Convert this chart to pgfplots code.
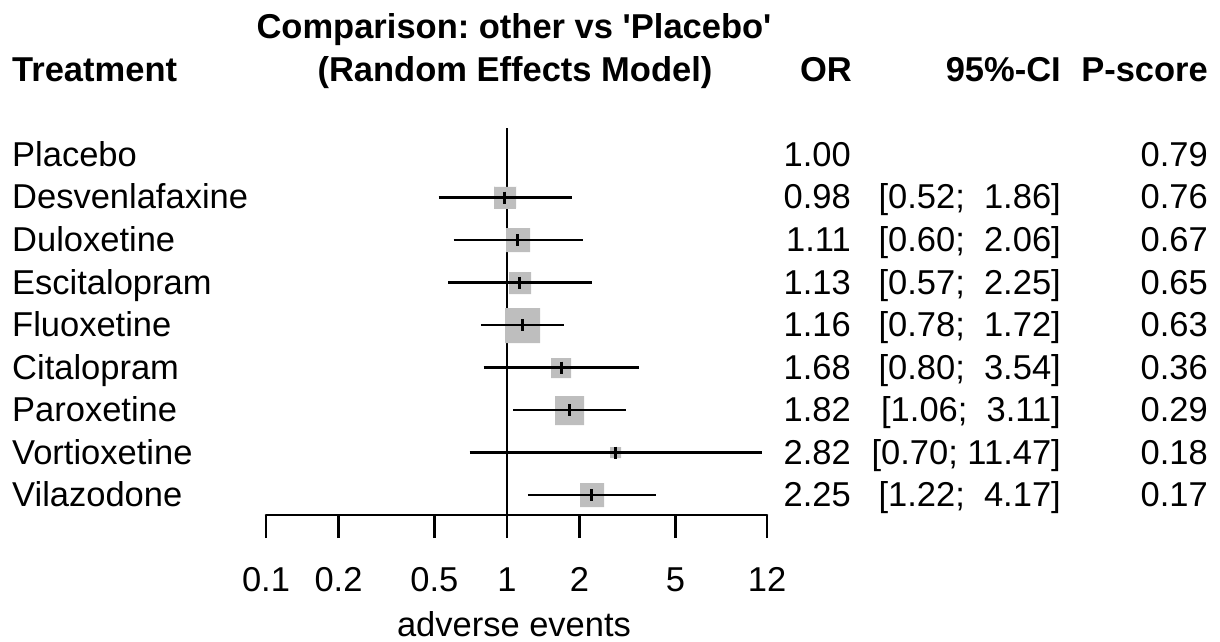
\documentclass[border=0pt]{standalone}
\usepackage{pgfplots}
\pgfplotsset{compat=1.18}
\usepackage{pgfplotstable}
\usepackage{fontspec}
\setmainfont{Liberation Sans}
\definecolor{boxgray}{RGB}{190,190,190}

\pgfplotstableread{
row or lo hi
2 0.98 0.52 1.86
3 1.11 0.60 2.06
4 1.13 0.57 2.25
5 1.16 0.78 1.72
6 1.68 0.80 3.54
7 1.82 1.06 3.11
8 2.82 0.70 11.47
9 2.25 1.22 4.17
}\data

\pgfplotstableread{
x y
0.52 -2
1.86 -2
nan nan
0.60 -3
2.06 -3
nan nan
0.57 -4
2.25 -4
nan nan
0.78 -5
1.72 -5
nan nan
0.80 -6
3.54 -6
nan nan
1.06 -7
3.11 -7
nan nan
0.70 -8
11.47 -8
nan nan
1.22 -9
4.17 -9
}\cidata

\newcommand\fs{\fontsize{34.5}{40}\selectfont}

\begin{document}
\frenchspacing
\begin{tikzpicture}[x=1pt,y=1pt]
\path[use as bounding box] (0,0) rectangle (1220,641);
\begin{axis}[
  at={(266pt,126pt)}, anchor=south west,
  scale only axis, width=501pt, height=387pt,
  xmode=log, xmin=0.1, xmax=12,
  ymin=-9.47, ymax=-0.365,
  axis x line*=bottom, axis y line=none,
  x axis line style={-, line width=2.6pt, line cap=round},
  xtick={0.1,0.2,0.5,1,2,5,12},
  xticklabels={0.1,0.2,0.5,1,2,5,12},
  minor xtick={},
  tick align=outside,
  major tick length=23pt,
  tick style={line width=2.6pt, black},
  xticklabel style={font=\fs, anchor=base, yshift=-53pt},
  clip=false,
  clip marker paths=true,
  unbounded coords=jump,
  box/.style={boxgray, only marks, mark=square*, mark options={line width=0.01pt, draw=boxgray, fill=boxgray}},
]
\addplot[black, line width=2.6pt] coordinates {(1,-0.365) (1,-9.47)};
% boxes (side length in px = 2 x mark size)
\addplot[box, mark size=11pt]   coordinates {(0.98,-2)};
\addplot[box, mark size=12pt]   coordinates {(1.11,-3)};
\addplot[box, mark size=11pt]   coordinates {(1.13,-4)};
\addplot[box, mark size=17.5pt] coordinates {(1.16,-5)};
\addplot[box, mark size=10pt]   coordinates {(1.68,-6)};
\addplot[box, mark size=14.5pt] coordinates {(1.82,-7)};
\addplot[box, mark size=5.5pt]  coordinates {(2.82,-8)};
\addplot[box, mark size=12pt]   coordinates {(2.25,-9)};
% confidence intervals
\addplot[black, line width=2.6pt, mark=none] table[x=x, y=y] {\cidata};
% point estimates
\addplot[black, only marks, mark=|, mark size=6pt, mark options={line width=3pt, black}]
  table[x=or, y expr=-\thisrow{row}] {\data};
\end{axis}

% column headers
\begin{scope}[every node/.style={inner sep=0pt, font=\fs\bfseries}]
\node[anchor=base] at (514,602) {Comparison: other vs \textquotesingle Placebo\textquotesingle};
\node[anchor=base] at (515,559) {(Random Effects Model)};
\node[anchor=base west] at (12,559) {Treatment};
\node[anchor=base east] at (852,559) {OR};
\node[anchor=base east] at (1061,559) {95\%-CI};
\node[anchor=base east] at (1208,559) {P-score};
\end{scope}

% rows
\foreach \n/\o/\c/\p [count=\i from 0] in {
  Placebo/1.00//0.79,
  Desvenlafaxine/0.98/{[0.52;\ \ 1.86]}/0.76,
  Duloxetine/1.11/{[0.60;\ \ 2.06]}/0.67,
  Escitalopram/1.13/{[0.57;\ \ 2.25]}/0.65,
  Fluoxetine/1.16/{[0.78;\ \ 1.72]}/0.63,
  Citalopram/1.68/{[0.80;\ \ 3.54]}/0.36,
  Paroxetine/1.82/{[1.06;\ \ 3.11]}/0.29,
  Vortioxetine/2.82/{[0.70; 11.47]}/0.18,
  Vilazodone/2.25/{[1.22;\ \ 4.17]}/0.17} {
  \pgfmathsetmacro\yy{474.5-42.5*\i}
  \node[anchor=base west, font=\fs, inner sep=0pt] at (12,\yy) {\n};
  \node[anchor=base east, font=\fs, inner sep=0pt] at (851,\yy) {\o};
  \node[anchor=base east, font=\fs, inner sep=0pt] at (1061,\yy) {\c};
  \node[anchor=base east, font=\fs, inner sep=0pt] at (1208,\yy) {\p};
}

\node[anchor=base, font=\fs, inner sep=0pt] at (514,5) {adverse events};
\end{tikzpicture}
\end{document}
